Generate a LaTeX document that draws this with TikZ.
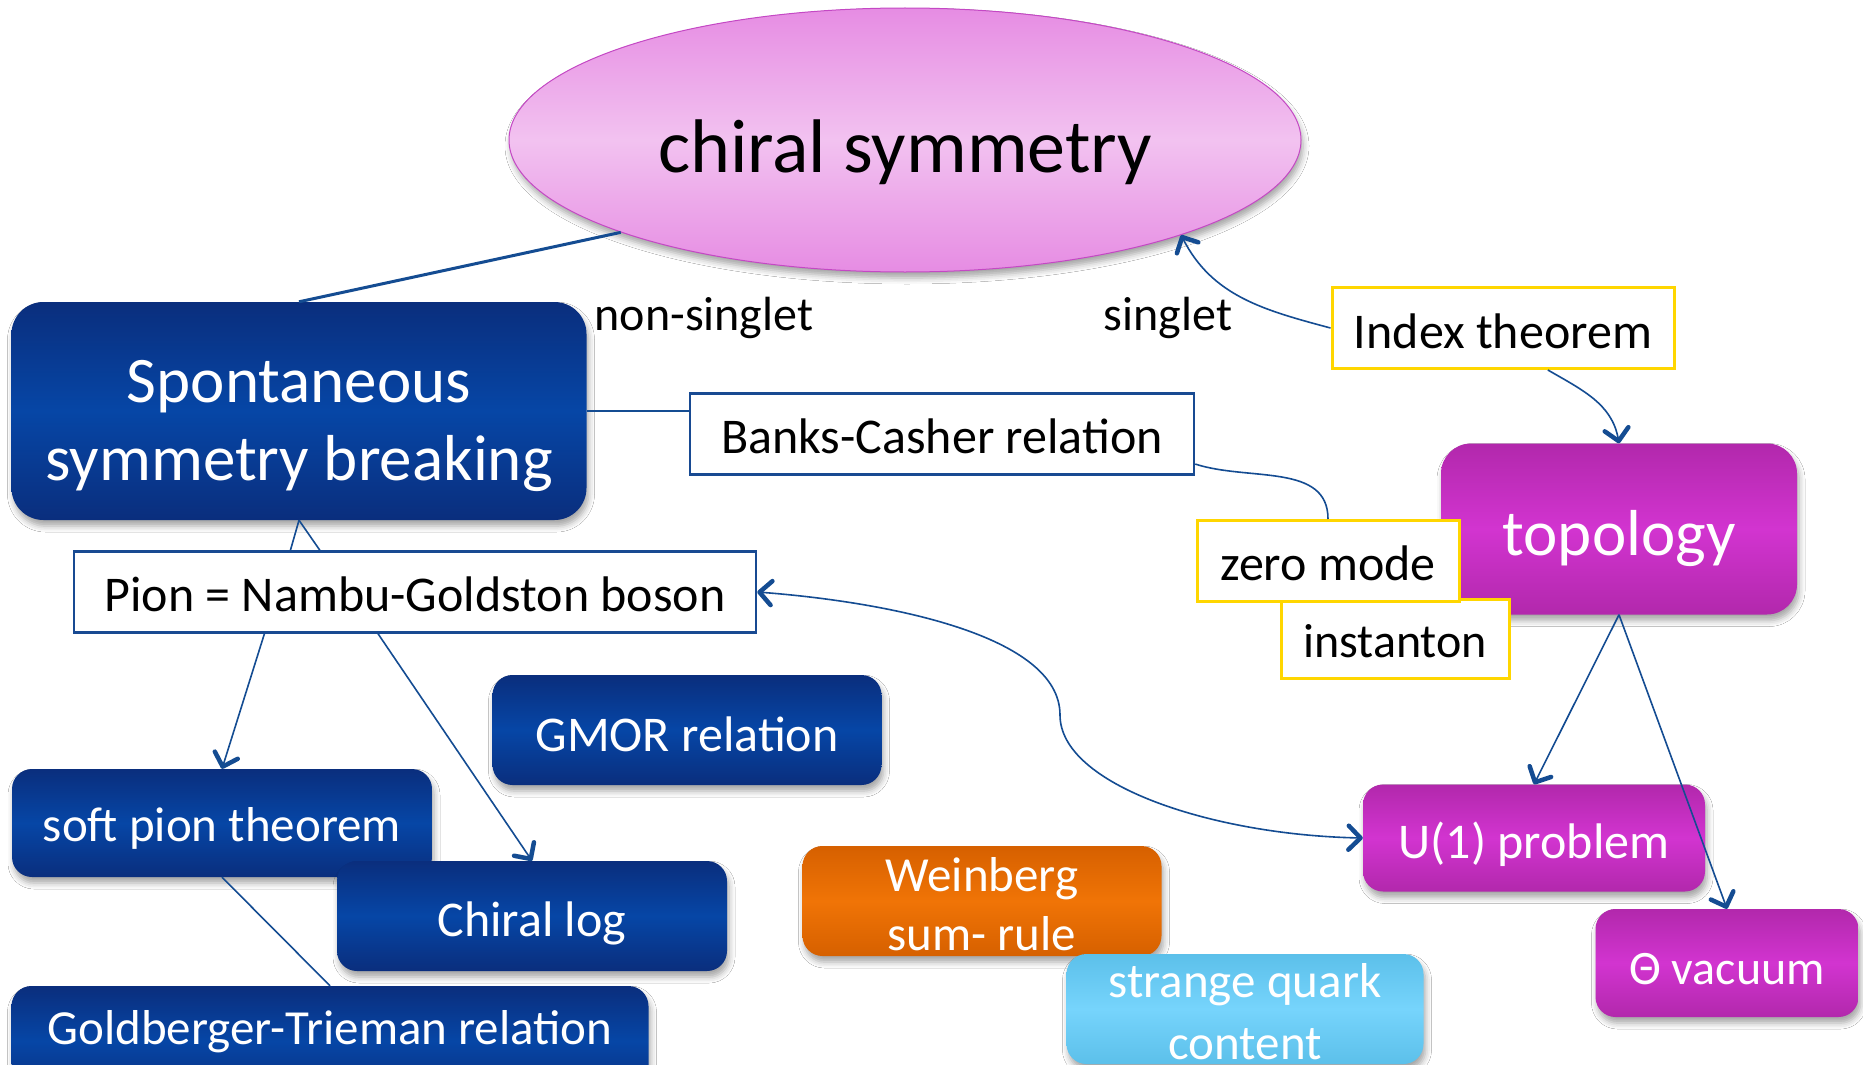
\documentclass[tikz,border=0pt]{standalone}
\usepackage{fontspec}
\setmainfont{Carlito}
\usetikzlibrary{shapes.geometric,arrows.meta,shadows.blur,calc}

\definecolor{linkblue}{RGB}{20,76,146}
\definecolor{navyedge}{RGB}{10,46,125}
\definecolor{navymid}{RGB}{6,70,166}
\definecolor{orchidedge}{RGB}{178,40,172}
\definecolor{orchidmid}{RGB}{210,52,208}
\definecolor{pinkedge}{RGB}{230,140,227}
\definecolor{pinkmid}{RGB}{242,194,240}
\definecolor{pinkline}{RGB}{196,72,196}
\definecolor{gold}{RGB}{255,214,0}
\definecolor{frameblue}{RGB}{24,74,146}
\definecolor{orangeedge}{RGB}{214,96,0}
\definecolor{orangemid}{RGB}{240,116,6}
\definecolor{skyedge}{RGB}{92,192,234}
\definecolor{skymid}{RGB}{118,212,252}

\tikzset{
  sz/.style 2 args={font=\fontsize{#1}{#2}\selectfont},
  % fixes the text box so that the baseline sits a set distance below the centre
  sink/.style={text height=#1, text depth=6pt},
  softshadow/.style={blur shadow={shadow xshift=2pt, shadow yshift=-6pt,
      shadow blur radius=6pt, shadow opacity=35}},
  card/.style={rectangle, inner sep=0pt, align=center, rounded corners=20pt,
    text=white, softshadow},
  navy/.style={card, top color=navyedge, bottom color=navyedge, middle color=navymid},
  orchid/.style={card, top color=orchidedge, bottom color=orchidedge, middle color=orchidmid},
  ember/.style={card, top color=orangeedge, bottom color=orangeedge, middle color=orangemid},
  sky/.style={card, top color=skyedge, bottom color=skyedge, middle color=skymid},
  goldbox/.style={rectangle, inner sep=0pt, draw=gold, line width=3pt, fill=white, text=black},
  bluebox/.style={rectangle, inner sep=0pt, draw=frameblue, line width=2.5pt, fill=white, text=black},
  link/.style={draw=linkblue, line width=1.6pt},
  barb/.tip={Straight Barb[length=12pt,width=24pt,line width=4.5pt,round]},
  tip/.style={-barb},
  bothtips/.style={barb-barb},
}

\begin{document}
\begin{tikzpicture}[x=1pt, y=-1pt]
\fill[white] (0,0) rectangle (1863,1065);
\useasboundingbox (0,0) rectangle (1863,1065);

% central concept
\node[ellipse, inner sep=0pt, minimum width=792, minimum height=264,
      top color=pinkedge, bottom color=pinkedge, middle color=pinkmid,
      draw=pinkline, line width=1pt, softshadow,
      sz={76}{90}, text height=66pt, text depth=2pt] (chiral) at (905,140) {chiral symmetry};

% left branch
\node[navy, rounded corners=32pt, minimum width=575, minimum height=218, sz={65}{78}]
  (ssb) at (299,411) {\rule{0pt}{72pt}Spontaneous\\symmetry breaking};

\node[sz={48}{58}] (nonsinglet) at (704,318) {non-singlet};
\node[sz={48}{58}] (singlet) at (1168,318) {singlet};

\node[goldbox, minimum width=342, minimum height=81, sz={50}{60}, sink=46pt] (index) at (1503,328) {Index theorem};
\node[bluebox, minimum width=504, minimum height=81, sz={50}{60}, sink=44pt] (banks) at (942,434) {Banks-Casher relation};

% right branch
\node[orchid, rounded corners=30pt, minimum width=356, minimum height=171, sz={65}{78}, sink=58pt]
  (topo) at (1619,529) {topology};
\node[goldbox, minimum width=228, minimum height=79, sz={48}{58}, sink=42pt] (inst) at (1395,639) {instanton};
\node[goldbox, minimum width=262, minimum height=81, sz={50}{60}, sink=44pt] (zero) at (1328,561) {zero mode};

\node[bluebox, minimum width=682, minimum height=81, sz={50}{60}, sink=44pt] (pion) at (415,592) {Pion = Nambu-Goldston boson};

\node[navy, minimum width=389, minimum height=110, sz={50}{60}, sink=48pt] (gmor) at (687,730) {GMOR relation};
\node[navy, minimum width=420, minimum height=108, sz={49}{60}, sink=42pt] (soft) at (222,823) {soft pion theorem};
\node[navy, minimum width=390, minimum height=110, sz={50}{60}, sink=46pt] (clog) at (532,916) {Chiral log};
\node[navy, minimum width=637, minimum height=110, sz={49}{60}, text height=30pt, text depth=24pt]
  (gt) at (330,1041) {Goldberger-Trieman relation};

\node[ember, minimum width=359, minimum height=110, sz={49}{59}] (weinberg) at (982,901) {\rule{0pt}{40pt}Weinberg\\sum- rule};
\node[sky, minimum width=357, minimum height=110, sz={49}{62}] (strange) at (1245,1009) {\rule{0pt}{40pt}strange quark\\content};

\node[orchid, minimum width=342, minimum height=107, sz={50}{60}, sink=46pt] (u1) at (1534,838) {U(1) problem};
\node[orchid, minimum width=263, minimum height=108, sz={48}{58}, sink=48pt] (theta) at (1727,963) {Θ vacuum};

% connectors
\draw[link, line width=3pt] (chiral.198.4) -- (ssb.north);
\draw[link] (ssb.east) -- (ssb.east -| banks.west);
\draw[link] (ssb.south) -- ($(pion.north west)!0.318!(pion.north east)$);
\draw[link] (ssb.south) -- ($(pion.north west)!0.361!(pion.north east)$);
\draw[link, tip] ($(pion.south west)!0.28!(pion.south east)$) -- (soft.north);
\draw[link, tip] ($(pion.south west)!0.446!(pion.south east)$) -- (clog.north);
\draw[link] (soft.south) -- (gt.north);

\draw[link, tip] (index.west) to[out=165, in=-63] (chiral.341.4);
\draw[link, tip] ($(index.south west)!0.63!(index.south east)$) to[out=-30, in=100] (topo.north);
\draw[link] ($(banks.south east)!0.14!(banks.north east)$) to[out=-18, in=90] (zero.north);

\draw[link, tip] (topo.south) -- (u1.north);
\draw[link, tip] (topo.south) -- (theta.north);

\coordinate (bend) at (1060,715);
\draw[link, bothtips] (pion.east) .. controls +(130,10) and +(0,-80) .. (bend)
   .. controls +(0,70) and +(-150,-3) .. (u1.west);
\end{tikzpicture}
\end{document}
